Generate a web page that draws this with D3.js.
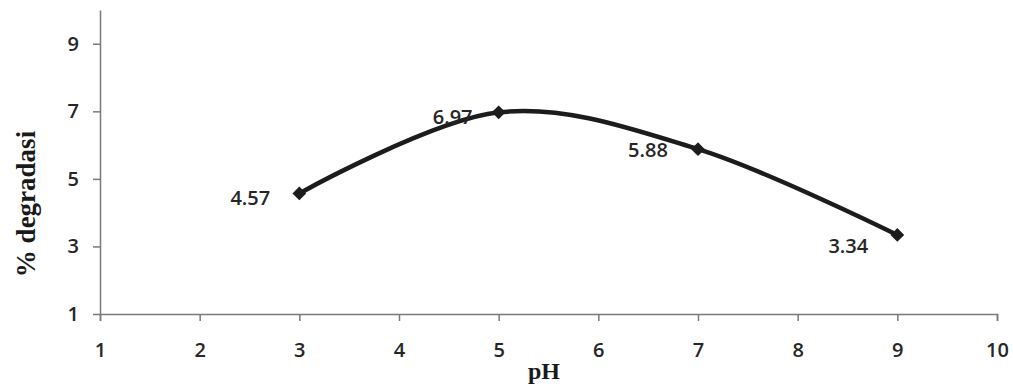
<!DOCTYPE html>
<html>
<head>
<meta charset="utf-8">
<script src="https://cdn.jsdelivr.net/npm/d3@7"></script>
<style>
  html, body { margin: 0; padding: 0; background: #fff; }
  svg { display: block; }
</style>
</head>
<body>
<script>
// Data
const phValues = [3, 5, 7, 9];
const degradasi = [4.57, 6.97, 5.88, 3.34];
const dataLabels = ["4.57", "6.97", "5.88", "3.34"];
const xTicks = [1, 2, 3, 4, 5, 6, 7, 8, 9, 10];
const yTicks = [1, 3, 5, 7, 9];
const xTitle = "pH";
const yTitle = "% degradasi";

const W = 1013, H = 386;
const svg = d3.select("body").append("svg").attr("width", W).attr("height", H);

const x = d3.scaleLinear().domain([1, 10]).range([100, 997]);
const y = d3.scaleLinear().domain([1, 10]).range([314, 10]);

const axisColor = "#7a7a7a";
const textColor = "#262626";
const tickFont = "'Open Sans', Lato, sans-serif";

// X axis
const gx = svg.append("g").attr("transform", `translate(0,${y(1)})`)
  .call(d3.axisBottom(x).tickValues(xTicks).tickFormat(d3.format("d")).tickSizeInner(7).tickSizeOuter(7).tickPadding(22));
// Y axis
const gy = svg.append("g").attr("transform", `translate(${x(1)},0)`)
  .call(d3.axisLeft(y).tickValues(yTicks).tickFormat(d3.format("d")).tickSizeInner(7).tickSizeOuter(0).tickPadding(14));

[gx, gy].forEach(g => {
  g.select(".domain").attr("stroke", axisColor).attr("stroke-width", 1.5);
  g.selectAll(".tick line").attr("stroke", axisColor).attr("stroke-width", 1.5);
  g.selectAll(".tick text").attr("fill", textColor).attr("font-family", tickFont)
    .attr("font-size", 20).attr("font-weight", 600);
});

// Axis titles
svg.append("text")
  .attr("x", 544).attr("y", 379)
  .attr("text-anchor", "middle")
  .attr("font-family", "'Liberation Serif', 'Times New Roman', serif")
  .attr("font-weight", "bold").attr("font-size", 24)
  .attr("fill", "#1a1a1a")
  .text(xTitle);

svg.append("text")
  .attr("transform", `translate(35,${204}) rotate(-90)`)
  .attr("text-anchor", "middle")
  .attr("font-family", "'Liberation Serif', 'Times New Roman', serif")
  .attr("font-weight", "bold").attr("font-size", 27)
  .attr("fill", "#1a1a1a")
  .text(yTitle);

// Line (smoothed, Excel-like)
const pts = phValues.map((p, i) => ({ p, v: degradasi[i], label: dataLabels[i] }));
const line = d3.line().x(d => x(d.p)).y(d => y(d.v)).curve(d3.curveCardinal.tension(0));
svg.append("path").datum(pts)
  .attr("d", line)
  .attr("fill", "none")
  .attr("stroke", "#1c1c1c")
  .attr("stroke-width", 4.5)
  .attr("stroke-linejoin", "round");

// Markers (diamonds)
const diamond = d3.symbol().type(d3.symbolDiamond2).size(120);
svg.selectAll(".mk").data(pts).enter().append("path")
  .attr("transform", d => `translate(${x(d.p)},${y(d.v)})`)
  .attr("d", diamond)
  .attr("fill", "#1c1c1c");

// Data labels (left of the points)
const labelOffsets = [[-49, 5], [-46, 5], [-50, 1], [-49, 11]];
svg.selectAll(".lbl").data(pts).enter().append("text")
  .attr("x", (d, i) => x(d.p) + labelOffsets[i][0])
  .attr("y", (d, i) => y(d.v) + labelOffsets[i][1] + 7)
  .attr("text-anchor", "middle")
  .attr("font-family", tickFont)
  .attr("font-size", 20).attr("font-weight", 600)
  .attr("fill", textColor)
  .text(d => d.label);
</script>
</body>
</html>
